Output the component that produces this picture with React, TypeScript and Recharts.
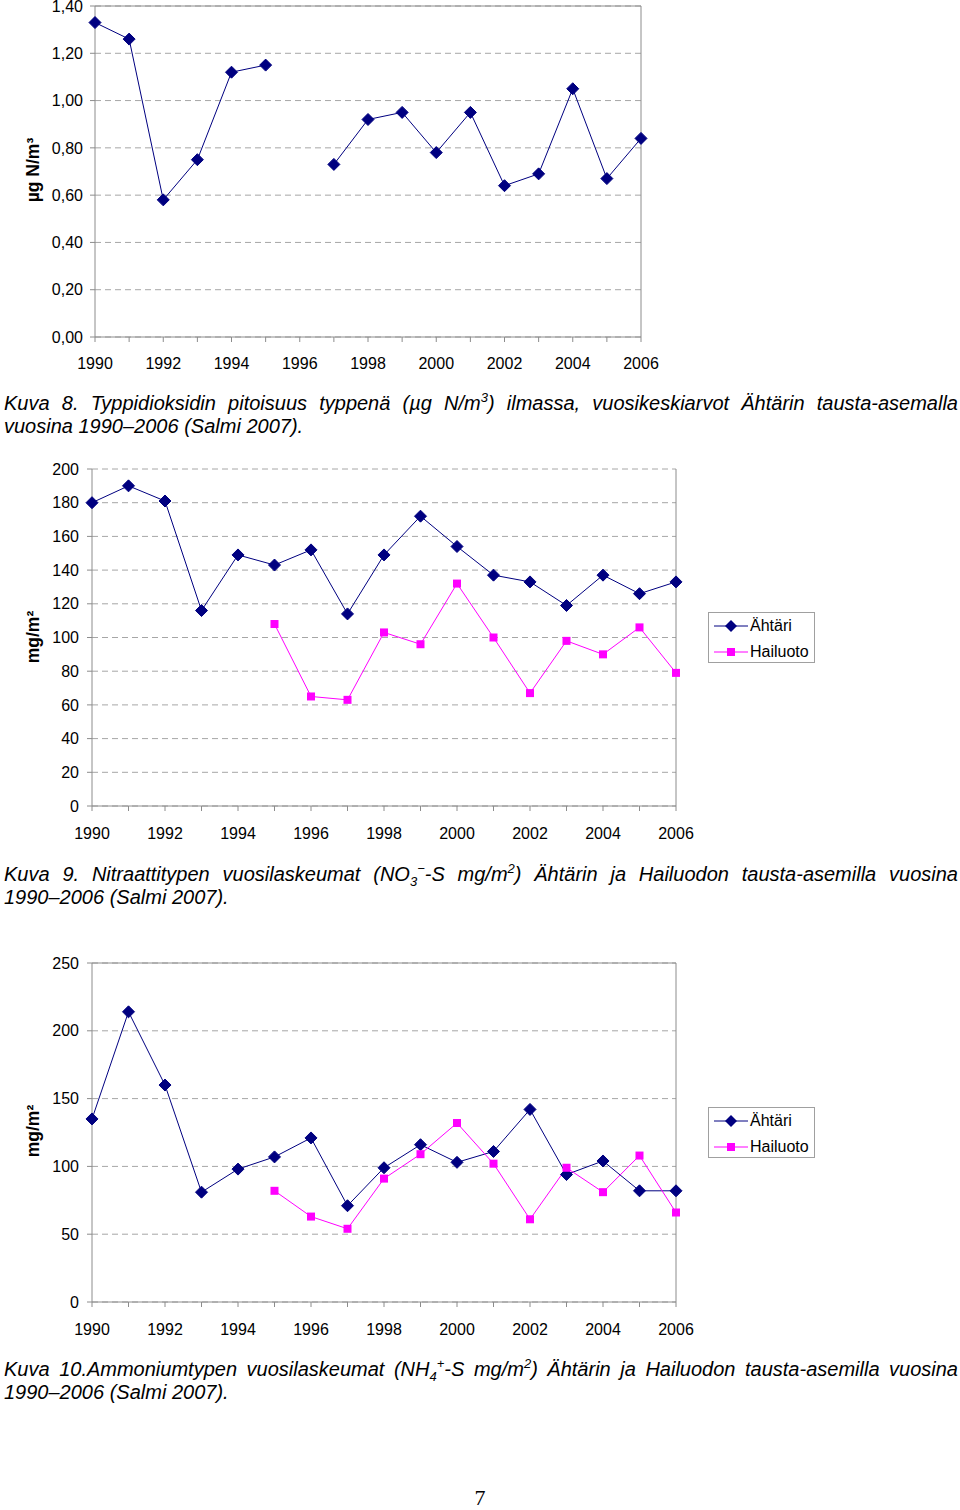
import React from 'react';
import { LineChart, Line, XAxis, YAxis, CartesianGrid, ReferenceLine } from 'recharts';

// Years shared by all three figures
const years = [1990, 1991, 1992, 1993, 1994, 1995, 1996, 1997, 1998, 1999, 2000, 2001, 2002, 2003, 2004, 2005, 2006];

// Kuva 8: NO2 as N, µg N/m³ (Ähtäri, no value for 1996)
const no2Ahtari = [1.33, 1.26, 0.58, 0.75, 1.12, 1.15, null, 0.73, 0.92, 0.95, 0.78, 0.95, 0.64, 0.69, 1.05, 0.67, 0.84];

// Kuva 9: nitrate deposition mg/m²
const nitrateAhtari = [180, 190, 181, 116, 149, 143, 152, 114, 149, 172, 154, 137, 133, 119, 137, 126, 133];
const nitrateHailuoto = [null, null, null, null, null, 108, 65, 63, 103, 96, 132, 100, 67, 98, 90, 106, 79];

// Kuva 10: ammonium deposition mg/m²
const ammoniumAhtari = [135, 214, 160, 81, 98, 107, 121, 71, 99, 116, 103, 111, 142, 94, 104, 82, 82];
const ammoniumHailuoto = [null, null, null, null, null, 82, 63, 54, 91, 109, 132, 102, 61, 99, 81, 108, 66];

// Axis ticks
const no2Ticks = [0, 0.2, 0.4, 0.6, 0.8, 1.0, 1.2, 1.4];
const nitrateTicks = [0, 20, 40, 60, 80, 100, 120, 140, 160, 180, 200];
const ammoniumTicks = [0, 50, 100, 150, 200, 250];

const NAVY = '#000080';
const MAGENTA = '#FF00FF';
const AXIS = '#8c8c8c';
const GRID = '#a6a6a6';
const FONT = "'Liberation Sans', Arial, Helvetica, sans-serif";

const no2Data = years.map((year, i) => ({ year, ahtari: no2Ahtari[i] }));
const nitrateData = years.map((year, i) => ({ year, ahtari: nitrateAhtari[i], hailuoto: nitrateHailuoto[i] }));
const ammoniumData = years.map((year, i) => ({ year, ahtari: ammoniumAhtari[i], hailuoto: ammoniumHailuoto[i] }));

const Diamond = (props: any) => {
  const { cx, cy } = props;
  if (cx == null || cy == null || isNaN(cy)) return null;
  const r = 6;
  return (
    <polygon
      key={props.key}
      points={`${cx},${cy - r} ${cx + r},${cy} ${cx},${cy + r} ${cx - r},${cy}`}
      fill={NAVY}
      stroke={NAVY}
    />
  );
};

const Square = (props: any) => {
  const { cx, cy } = props;
  if (cx == null || cy == null || isNaN(cy)) return null;
  const s = 4;
  return <rect key={props.key} x={cx - s} y={cy - s} width={s * 2} height={s * 2} fill={MAGENTA} />;
};

const yearLabel = (v: number) => (v % 2 === 0 ? String(v) : '');
const tickStyle = { fill: '#000', fontSize: 16, fontFamily: FONT };

const abs = (left: number, top: number): React.CSSProperties => ({ position: 'absolute', left, top });

const AxisTitle = ({ x, y, children }: { x: number; y: number; children: React.ReactNode }) => (
  <div
    style={{
      position: 'absolute',
      left: x - 100,
      top: y - 10,
      width: 200,
      height: 20,
      lineHeight: '20px',
      textAlign: 'center',
      transform: 'rotate(-90deg)',
      fontFamily: FONT,
      fontWeight: 'bold',
      fontSize: 17.5,
    }}
  >
    {children}
  </div>
);

const LegendBox = ({ top }: { top: number }) => (
  <div
    style={{
      position: 'absolute',
      left: 708,
      top,
      width: 105,
      height: 49,
      border: '1px solid #a0a0a0',
      background: '#fff',
      fontFamily: FONT,
      fontSize: 16,
    }}
  >
    <svg width={40} height={49} style={{ position: 'absolute', left: 5, top: 0 }}>
      <line x1={0} y1={13} x2={34} y2={13} stroke={NAVY} strokeWidth={1} />
      <polygon points="17,7 23,13 17,19 11,13" fill={NAVY} />
      <line x1={0} y1={39} x2={34} y2={39} stroke={MAGENTA} strokeWidth={1} />
      <rect x={13} y={35} width={8} height={8} fill={MAGENTA} />
    </svg>
    <div style={{ position: 'absolute', left: 41, top: 3, lineHeight: '20px' }}>Ähtäri</div>
    <div style={{ position: 'absolute', left: 41, top: 29, lineHeight: '20px' }}>Hailuoto</div>
  </div>
);

const captionStyle: React.CSSProperties = {
  position: 'absolute',
  left: 4,
  width: 954,
  margin: 0,
  fontFamily: FONT,
  fontStyle: 'italic',
  fontSize: 20,
  lineHeight: '23px',
  textAlign: 'justify',
};

const supStyle: React.CSSProperties = { fontSize: '0.65em', verticalAlign: 'super', lineHeight: 0 };
const subStyle: React.CSSProperties = { fontSize: '0.65em', verticalAlign: 'sub', lineHeight: 0 };
const noWrap: React.CSSProperties = { whiteSpace: 'nowrap' };

const App: React.FC = () => {
  return (
    <div style={{ position: 'absolute', left: 0, top: 0, width: 960, height: 1510, background: '#fff' }}>
      {/* Kuva 8 */}
      <div style={abs(0, 0)}>
        <LineChart width={660} height={380} data={no2Data} margin={{ top: 6, right: 19, bottom: 13, left: 0 }}>
          <CartesianGrid vertical={false} stroke={GRID} strokeDasharray="6 4" />
          <XAxis
            dataKey="year"
            type="number"
            domain={[1990, 2006]}
            ticks={years}
            interval={0}
            tickFormatter={yearLabel}
            stroke={AXIS}
            tick={tickStyle}
            tickSize={5}
            tickMargin={16}
          />
          <YAxis
            domain={[0, 1.4]}
            ticks={no2Ticks}
            width={95}
            interval={0}
            tickFormatter={(v: number) => v.toFixed(2).replace('.', ',')}
            stroke={AXIS}
            tick={tickStyle}
            tickSize={5}
            tickMargin={7}
          />
          <ReferenceLine y={1.4} stroke={AXIS} />
          <ReferenceLine x={2006} stroke={AXIS} />
          <Line
            dataKey="ahtari"
            stroke={NAVY}
            strokeWidth={1}
            dot={<Diamond />}
            activeDot={false}
            isAnimationActive={false}
          />
        </LineChart>
      </div>
      <AxisTitle x={33} y={170}>
        µg N/m³
      </AxisTitle>
      <p style={{ ...captionStyle, top: 392 }}>
        Kuva 8. Typpidioksidin pitoisuus typpenä (µg N/m<span style={supStyle}>3</span>) ilmassa, vuosikeskiarvot
        Ähtärin tausta-asemalla vuosina <span style={noWrap}>1990–2006</span> (Salmi 2007).
      </p>

      {/* Kuva 9 */}
      <div style={abs(0, 460)}>
        <LineChart width={700} height={390} data={nitrateData} margin={{ top: 9, right: 24, bottom: 14, left: 0 }}>
          <CartesianGrid vertical={false} stroke={GRID} strokeDasharray="6 4" />
          <XAxis
            dataKey="year"
            type="number"
            domain={[1990, 2006]}
            ticks={years}
            interval={0}
            tickFormatter={yearLabel}
            stroke={AXIS}
            tick={tickStyle}
            tickSize={5}
            tickMargin={17}
          />
          <YAxis
            domain={[0, 200]}
            ticks={nitrateTicks}
            width={92}
            interval={0}
            stroke={AXIS}
            tick={tickStyle}
            tickSize={5}
            tickMargin={8}
          />
          <ReferenceLine x={2006} stroke={AXIS} />
          <Line dataKey="ahtari" stroke={NAVY} strokeWidth={1} dot={<Diamond />} activeDot={false} isAnimationActive={false} />
          <Line dataKey="hailuoto" stroke={MAGENTA} strokeWidth={1} dot={<Square />} activeDot={false} isAnimationActive={false} />
        </LineChart>
      </div>
      <AxisTitle x={33} y={637}>
        mg/m²
      </AxisTitle>
      <LegendBox top={612} />
      <p style={{ ...captionStyle, top: 863 }}>
        Kuva 9. Nitraattitypen vuosilaskeumat (NO<span style={subStyle}>3</span>
        <span style={supStyle}>−</span>-S mg/m<span style={supStyle}>2</span>) Ähtärin ja Hailuodon tausta-asemilla
        vuosina <span style={noWrap}>1990–2006</span> (Salmi 2007).
      </p>

      {/* Kuva 10 */}
      <div style={abs(0, 950)}>
        <LineChart width={700} height={390} data={ammoniumData} margin={{ top: 13, right: 24, bottom: 8, left: 0 }}>
          <CartesianGrid vertical={false} stroke={GRID} strokeDasharray="6 4" />
          <XAxis
            dataKey="year"
            type="number"
            domain={[1990, 2006]}
            ticks={years}
            interval={0}
            tickFormatter={yearLabel}
            stroke={AXIS}
            tick={tickStyle}
            tickSize={5}
            tickMargin={17}
          />
          <YAxis
            domain={[0, 250]}
            ticks={ammoniumTicks}
            width={92}
            interval={0}
            stroke={AXIS}
            tick={tickStyle}
            tickSize={5}
            tickMargin={8}
          />
          <ReferenceLine y={250} stroke={AXIS} />
          <ReferenceLine x={2006} stroke={AXIS} />
          <Line dataKey="ahtari" stroke={NAVY} strokeWidth={1} dot={<Diamond />} activeDot={false} isAnimationActive={false} />
          <Line dataKey="hailuoto" stroke={MAGENTA} strokeWidth={1} dot={<Square />} activeDot={false} isAnimationActive={false} />
        </LineChart>
      </div>
      <AxisTitle x={33} y={1131}>
        mg/m²
      </AxisTitle>
      <LegendBox top={1107} />
      <p style={{ ...captionStyle, top: 1358 }}>
        Kuva 10.Ammoniumtypen vuosilaskeumat (NH<span style={subStyle}>4</span>
        <span style={supStyle}>+</span>-S mg/m<span style={supStyle}>2</span>) Ähtärin ja Hailuodon tausta-asemilla
        vuosina <span style={noWrap}>1990–2006</span> (Salmi 2007).
      </p>

      <div
        style={{
          position: 'absolute',
          left: 0,
          width: 960,
          top: 1485,
          textAlign: 'center',
          fontFamily: "'Liberation Serif', 'Times New Roman', serif",
          fontSize: 22,
        }}
      >
        7
      </div>
    </div>
  );
};

export default App;
